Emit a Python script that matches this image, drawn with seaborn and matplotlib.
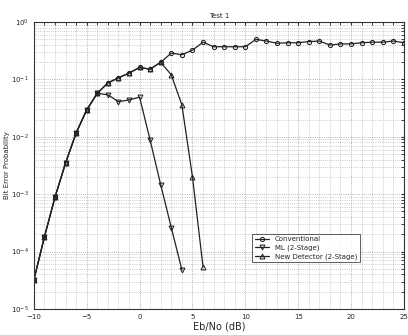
import numpy as np
import pandas as pd
import seaborn as sns
import matplotlib.pyplot as plt
from matplotlib.ticker import LogLocator, MultipleLocator, NullFormatter

# values
snr_conv = list(range(-10, 26))
ber_conv = [3.2e-5, 1.8e-4, 8.9e-4, 3.5e-3, 0.0117, 0.0295, 0.0575, 0.087, 0.107,
            0.129, 0.162, 0.151, 0.20, 0.288, 0.27, 0.324, 0.447, 0.372, 0.372,
            0.372, 0.372, 0.50, 0.468, 0.427, 0.437, 0.437, 0.457, 0.468, 0.398,
            0.417, 0.417, 0.437, 0.447, 0.447, 0.468, 0.437]

snr_ml = list(range(-10, 5))
ber_ml = [3.2e-5, 1.8e-4, 8.9e-4, 3.5e-3, 0.0117, 0.0295, 0.0575, 0.054, 0.041,
          0.044, 0.049, 8.7e-3, 1.45e-3, 2.6e-4, 4.8e-5]

snr_new = list(range(-10, 7))
ber_new = [3.2e-5, 1.8e-4, 8.9e-4, 3.5e-3, 0.0117, 0.0295, 0.0575, 0.087, 0.107,
           0.129, 0.162, 0.151, 0.20, 0.12, 0.036, 2.0e-3, 5.4e-5]

labels = ['Conventional', 'ML (2-Stage)', 'New Detector (2-Stage)']

sns.set_style('white')
plt.rcParams['font.family'] = ['DejaVu Sans']

fig = plt.figure(figsize=(4.08, 3.35), dpi=100)
ax = fig.add_axes([0.083, 0.078, 0.907, 0.856])

sns.lineplot(x=snr_conv, y=ber_conv, ax=ax, color='#222222', lw=0.9, marker='o',
             markersize=3, markerfacecolor='none', markeredgecolor='#222222',
             label=labels[0])
sns.lineplot(x=snr_ml, y=ber_ml, ax=ax, color='#222222', lw=0.9, marker='v',
             markersize=3.5, markerfacecolor='none', markeredgecolor='#222222',
             label=labels[1])
sns.lineplot(x=snr_new, y=ber_new, ax=ax, color='#222222', lw=0.9, marker='^',
             markersize=3.5, markerfacecolor='none', markeredgecolor='#222222',
             label=labels[2])

ax.set_yscale('log')
ax.set_ylim(1e-5, 1)
ax.set_xlim(-10, 25)
ax.xaxis.set_major_locator(MultipleLocator(5))
ax.xaxis.set_minor_locator(MultipleLocator(1))
ax.yaxis.set_major_locator(LogLocator(base=10, numticks=10))
ax.yaxis.set_minor_locator(LogLocator(base=10, subs=np.arange(2, 10), numticks=20))
ax.yaxis.set_minor_formatter(NullFormatter())

ax.grid(which='major', color='#999999', ls=':', lw=0.6)
ax.grid(which='minor', color='#aaaaaa', ls=':', lw=0.5)
ax.tick_params(labelsize=5, length=2, direction='in', which='both', top=True, right=True)
for s in ax.spines.values():
    s.set_color('#333333')
    s.set_linewidth(0.8)

ax.set_title('Test 1', fontsize=5, pad=3)
ax.set_xlabel('Eb/No (dB)', fontsize=7, labelpad=1)
ax.set_ylabel('Bit Error Probability', fontsize=5, labelpad=1)

leg = ax.legend(loc='lower right', bbox_to_anchor=(0.89, 0.15), fontsize=5,
                frameon=True, fancybox=False, edgecolor='#333333',
                handlelength=2, borderpad=0.4, labelspacing=0.3)
leg.get_frame().set_linewidth(0.7)

fig.savefig('out.png', dpi=100)
